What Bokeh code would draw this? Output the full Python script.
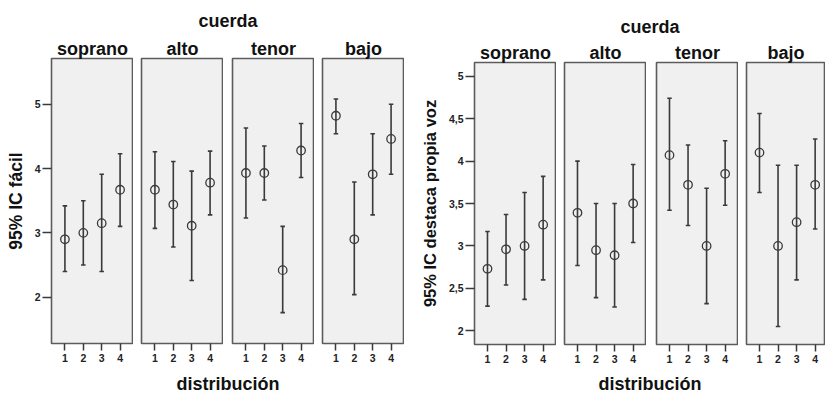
from bokeh.plotting import figure
from bokeh.layouts import row, column
from bokeh.models import FixedTicker, Label, Range1d, ColumnDataSource
from bokeh.embed import file_html
from bokeh.resources import INLINE

# ---------------- data ----------------
cuerdas = ["soprano", "alto", "tenor", "bajo"]
distribucion = [1, 2, 3, 4]
titulo_panel = "cuerda"
titulo_x = "distribución"

# chart 1: 95% IC fácil  (rows = cuerda, cols = distribución)
facil_label = "95% IC fácil"
facil_media = [[2.90, 3.00, 3.15, 3.67],
               [3.67, 3.44, 3.11, 3.78],
               [3.93, 3.93, 2.42, 4.28],
               [4.82, 2.90, 3.91, 4.46]]
facil_inf = [[2.40, 2.50, 2.40, 3.10],
             [3.07, 2.78, 2.26, 3.28],
             [3.23, 3.51, 1.76, 3.86],
             [4.54, 2.04, 3.28, 3.91]]
facil_sup = [[3.42, 3.50, 3.91, 4.23],
             [4.26, 4.11, 3.96, 4.27],
             [4.63, 4.35, 3.10, 4.70],
             [5.08, 3.79, 4.54, 5.00]]
facil_ticks = [2, 3, 4, 5]

# chart 2: 95% IC destaca propia voz
voz_label = "95% IC destaca propia voz"
voz_media = [[2.73, 2.96, 3.00, 3.25],
             [3.39, 2.95, 2.89, 3.50],
             [4.07, 3.72, 3.00, 3.85],
             [4.10, 3.00, 3.28, 3.72]]
voz_inf = [[2.29, 2.54, 2.37, 2.60],
           [2.77, 2.39, 2.28, 3.04],
           [3.42, 3.24, 2.32, 3.48],
           [3.63, 2.05, 2.60, 3.20]]
voz_sup = [[3.17, 3.37, 3.63, 3.82],
           [4.00, 3.50, 3.50, 3.96],
           [4.74, 4.19, 3.68, 4.24],
           [4.56, 3.95, 3.95, 4.26]]
voz_ticks = [2, 2.5, 3, 3.5, 4, 4.5, 5]
voz_tick_text = {2.5: "2,5", 3.5: "3,5", 4.5: "4,5"}

# ---------------- style ----------------
FONT = "Liberation Sans"
INK = "#3a3a3a"
BG = "#f0f0f0"
FRAME = "#5c5c5c"


def facet(k, media, inf, sup, yr, xr, width, mbl, height, mbt, mbb,
          first, yticks, ylabel, label_size, overrides=None, lab_standoff=6):
    p = figure(width=width, height=height, x_range=Range1d(*xr), y_range=Range1d(*yr),
               toolbar_location=None, output_backend="svg", min_border=0,
               min_border_left=mbl, min_border_top=mbt, min_border_bottom=mbb,
               min_border_right=0)
    p.background_fill_color = BG
    p.border_fill_color = "white"
    p.outline_line_color = FRAME
    p.outline_line_width = 1.6
    p.grid.visible = False
    p.title.text = cuerdas[k]
    p.title.align = "center"
    p.title.text_font = FONT
    p.title.text_font_size = "18px"
    p.title.text_font_style = "bold"
    p.title.text_color = "#111111"
    p.title.standoff = 0

    src = ColumnDataSource(dict(x=distribucion, m=media[k], lo=inf[k], hi=sup[k]))
    p.segment(x0="x", y0="lo", x1="x", y1="hi", source=src, line_color=INK, line_width=1.6)
    p.scatter(x="x", y="lo", source=src, marker="dash", size=4.5, line_color=INK, line_width=1.6)
    p.scatter(x="x", y="hi", source=src, marker="dash", size=4.5, line_color=INK, line_width=1.6)
    p.scatter(x="x", y="m", source=src, marker="circle", size=8.5, fill_color=None,
              line_color=INK, line_width=1.3)

    xa = p.xaxis[0]
    xa.ticker = FixedTicker(ticks=distribucion)
    xa.axis_line_color = None
    xa.major_tick_in = 0
    xa.major_tick_out = 7
    xa.major_tick_line_color = INK
    xa.major_tick_line_width = 1.5
    xa.minor_tick_line_color = None
    xa.major_label_standoff = 3
    xa.major_label_text_font = FONT
    xa.major_label_text_font_size = "10.5px"
    xa.major_label_text_font_style = "bold"
    xa.major_label_text_color = "#222222"

    ya = p.yaxis[0]
    if first:
        ya.ticker = FixedTicker(ticks=yticks)
        if overrides:
            ya.major_label_overrides = overrides
        ya.axis_line_color = None
        ya.major_tick_in = 0
        ya.major_tick_out = 9
        ya.major_tick_line_color = INK
        ya.major_tick_line_width = 1.5
        ya.minor_tick_line_color = None
        ya.major_label_standoff = 2
        ya.major_label_text_font = FONT
        ya.major_label_text_font_size = "10.5px"
        ya.major_label_text_font_style = "bold"
        ya.major_label_text_color = "#222222"
        ya.axis_label = ylabel
        ya.axis_label_text_font = FONT
        ya.axis_label_text_font_size = label_size
        ya.axis_label_text_font_style = "bold"
        ya.axis_label_text_color = "#111111"
        ya.axis_label_standoff = lab_standoff
    else:
        ya.visible = False
    return p


def text_fig(width, height, mbl, text, y):
    f = figure(width=width, height=height, x_range=Range1d(0, 1), y_range=Range1d(0, height),
               toolbar_location=None, output_backend="svg", min_border=0,
               min_border_left=mbl, x_axis_location=None, y_axis_location=None)
    f.outline_line_color = None
    f.grid.visible = False
    f.background_fill_color = "white"
    f.border_fill_color = "white"
    f.add_layout(Label(x=0.5, y=y, text=text, text_align="center", text_baseline="middle",
                       text_font=FONT, text_font_size="18px", text_font_style="bold",
                       text_color="#111111"))
    return f


# ---------------- left chart ----------------
L_yr = (1.28, 5.71)
L_xr = (0.27, 4.73)
L_widths = [133, 90, 91, 90]
L_mbl = [51, 8, 9, 8]
left_facets = [facet(k, facil_media, facil_inf, facil_sup, L_yr, L_xr, L_widths[k], L_mbl[k],
                     334, 25, 24, k == 0, facil_ticks, facil_label, "17.5px", lab_standoff=6)
               for k in range(4)]
L_w = sum(L_widths)
left = column(text_fig(L_w, 33, 51, titulo_panel, 12.5),
              row(*left_facets),
              text_fig(L_w, 26, 51, titulo_x, 10))

# ---------------- right chart ----------------
R_yr = (1.838, 5.162)
R_xr = [(0.3, 4.72), (0.3, 4.72), (0.3, 4.72), (0.3, 4.558)]
R_widths = [152, 90, 92, 87]
R_mbl = [70, 8, 10, 8]
right_facets = [facet(k, voz_media, voz_inf, voz_sup, R_yr, R_xr[k], R_widths[k], R_mbl[k],
                      327, 22, 23, k == 0, voz_ticks, voz_label, "16.5px", voz_tick_text,
                      lab_standoff=7)
                for k in range(4)]
R_w = sum(R_widths)
right = column(text_fig(R_w, 40, 70, titulo_panel, 14),
               row(*right_facets),
               text_fig(R_w, 26, 70, titulo_x, 10))

layout = row(left, right)

open("out.html", "w").write(file_html(layout, INLINE))
